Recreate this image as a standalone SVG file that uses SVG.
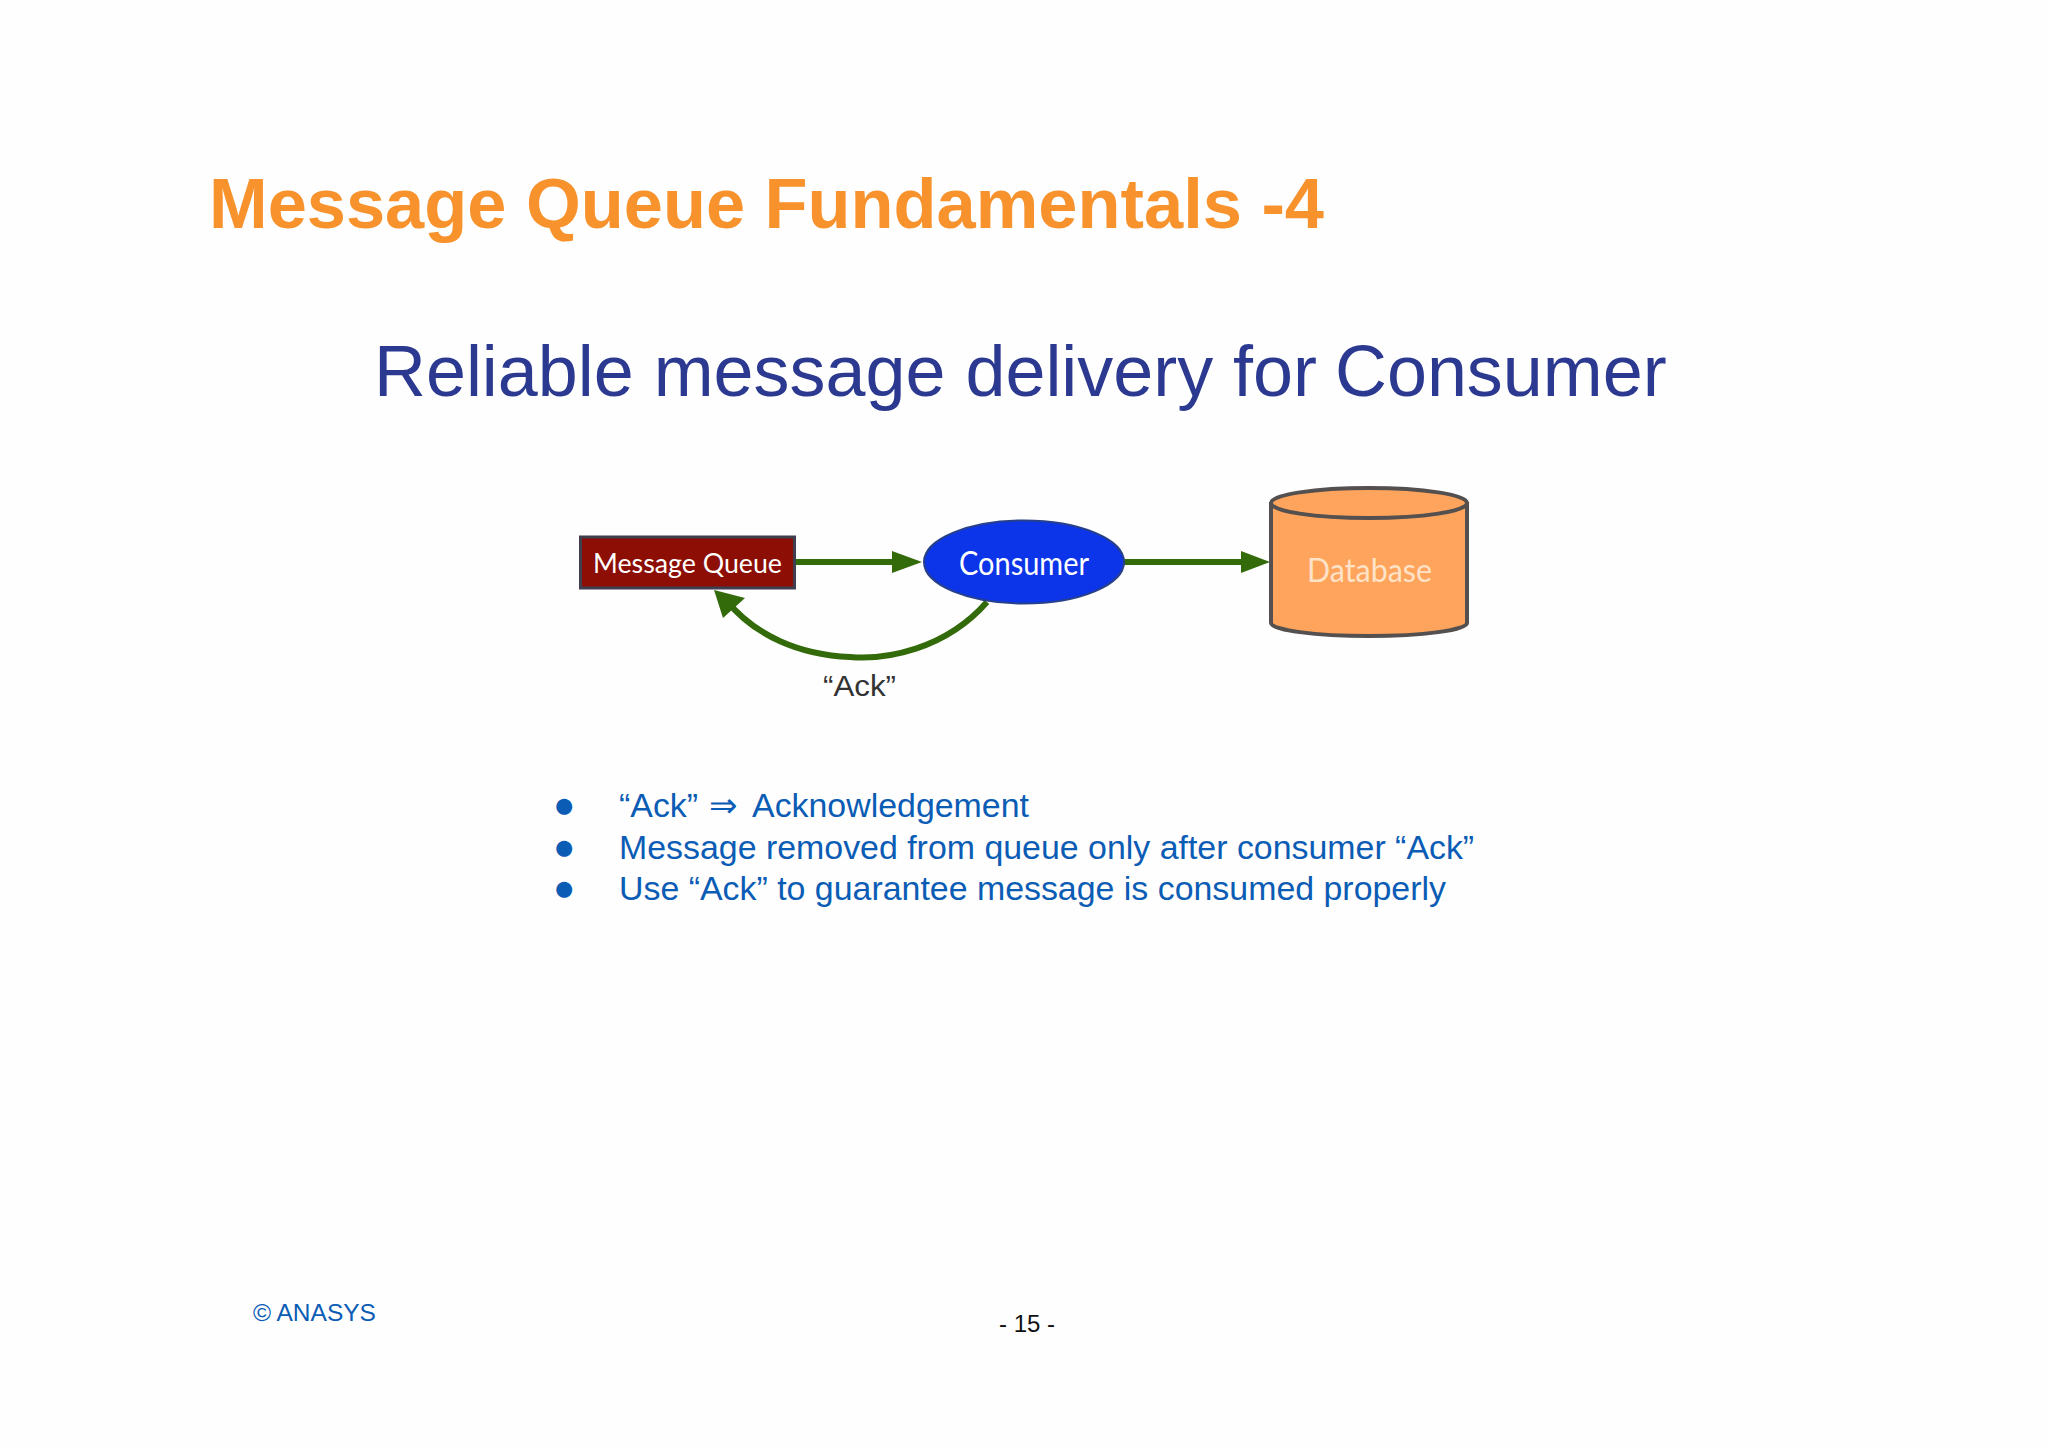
<svg xmlns="http://www.w3.org/2000/svg" width="2048" height="1448" viewBox="0 0 2048 1448">
<defs>
<style>
.s{font-family:"Liberation Sans",Arial,sans-serif}
.f{font-family:"Lato","Noto Sans",sans-serif;fill:#fff}
.b{fill:#0b5cb5;font-size:33.900px}
.d{fill:#0b5cb5;font-size:37px}
.c{fill:none;stroke:#336a0a;stroke-width:6}
.h{fill:#336a0a}
</style>
</defs>
<rect width="2048" height="1448" fill="#fefefe"/>
<text class="s" x="209" y="228" font-size="70" font-weight="700" fill="#f7922d" textLength="1115" lengthAdjust="spacingAndGlyphs">Message Queue Fundamentals -4</text>
<text class="s" x="374" y="396" font-size="71.900" fill="#2b3990">Reliable message delivery for<tspan dx="-2"> Consumer</tspan></text>
<g id="connectors">
<path class="c" d="M795 562H895"/><path class="h" d="M892 551L922 562L892 573Z"/>
<path class="c" d="M1123 562H1244"/><path class="h" d="M1241 551L1270 562L1241 573Z"/>
<path class="c" d="M987 602C945 650 885 660 850 657C800 655 755 636 726 600"/><path class="h" d="M714 590L745 598L723 618Z"/>
</g>
<g id="message-queue">
<rect x="580.500" y="537" width="214" height="51" fill="#8c0e04" stroke="#3f3f50" stroke-width="3"/>
<text class="f" x="593" y="573" font-size="27" textLength="189" lengthAdjust="spacingAndGlyphs">Message Queue</text>
</g>
<g id="consumer">
<ellipse cx="1024" cy="562" rx="100" ry="41.500" fill="#0c34e8" stroke="#27408a" stroke-width="2"/>
<text class="f" x="959" y="575" font-size="32" textLength="130" lengthAdjust="spacingAndGlyphs">Consumer</text>
</g>
<g id="database">
<path d="M1271 504V623C1271 630 1315 636 1369 636C1423 636 1467 630 1467 623V504Z" fill="#ffa45c" stroke="#54504f" stroke-width="4"/>
<ellipse cx="1369" cy="503" rx="98" ry="15" fill="#ffa45c" stroke="#54504f" stroke-width="4"/>
<text class="f" x="1307" y="582" font-size="32" textLength="125" lengthAdjust="spacingAndGlyphs" style="fill:#ffe3c8">Database</text>
</g>
<text class="s" x="823" y="696" font-size="29" fill="#333" textLength="73" lengthAdjust="spacingAndGlyphs">“Ack”</text>
<g class="s">
<text class="s d" x="553" y="817">●</text>
<text class="s d" x="553" y="859">●</text>
<text class="s d" x="553" y="900">●</text>
<text class="s b" x="619" y="817">“Ack” <tspan dx="2">⇒</tspan><tspan dx="7"> Acknowledgement</tspan></text>
<text class="s b" x="619" y="859">Message removed from queue only after consumer “Ack”</text>
<text class="s b" x="619" y="900">Use “Ack” to guarantee message is consumed properly</text>
</g>
<text class="s" x="253" y="1321" font-size="24.500" fill="#0b5cb5">© ANASYS</text>
<text class="s" x="999" y="1332" font-size="24" fill="#111">- 15 -</text>
</svg>
